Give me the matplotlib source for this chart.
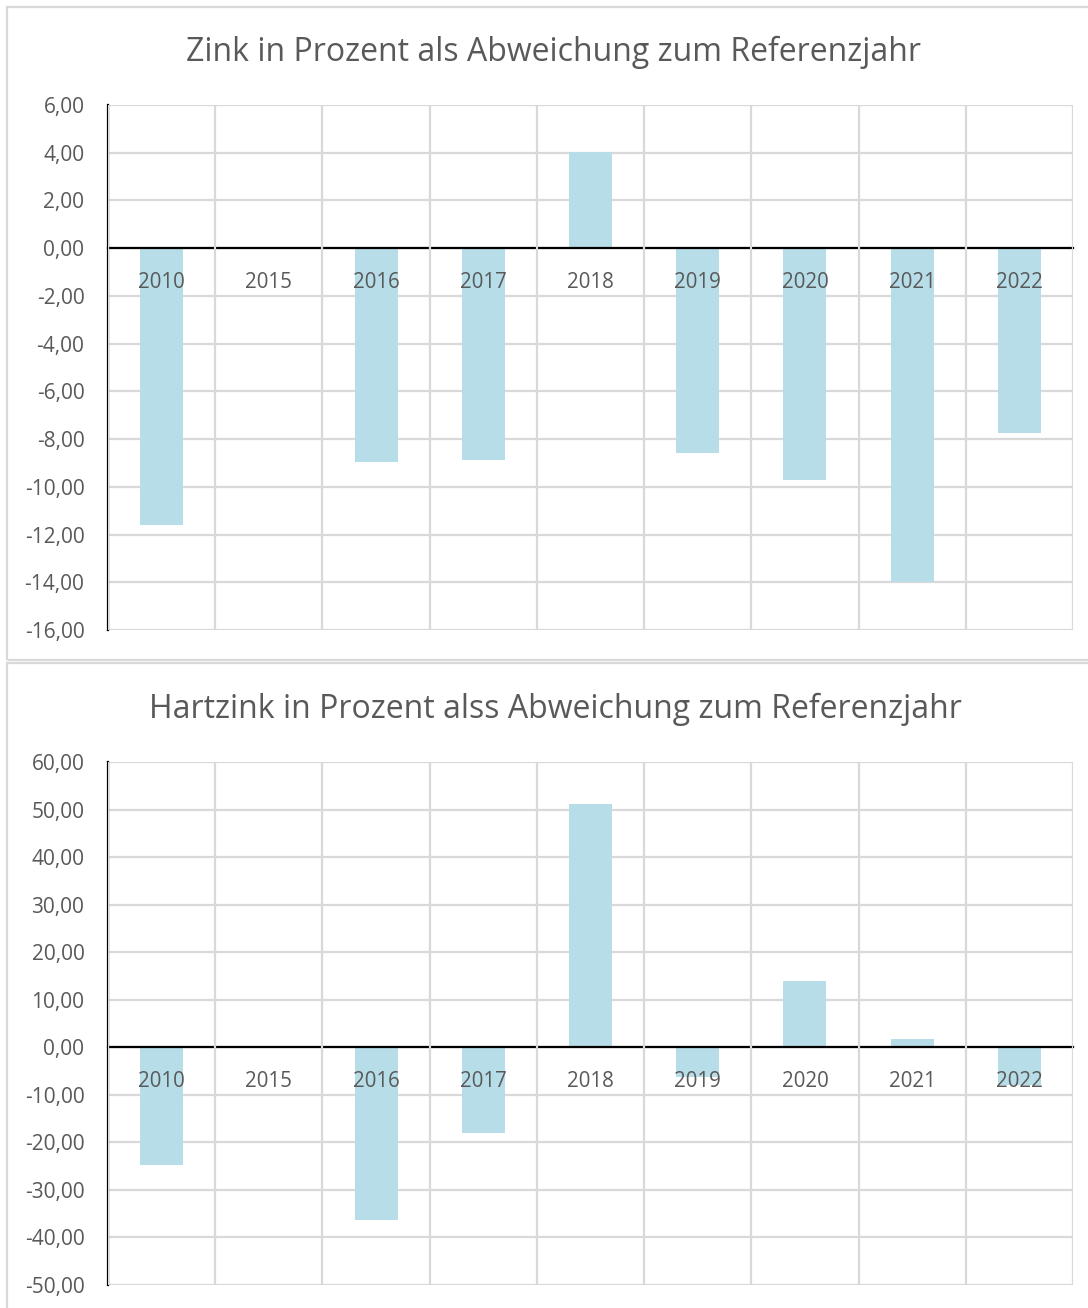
import numpy as np
import matplotlib.pyplot as plt
from matplotlib.patches import Rectangle
from matplotlib.ticker import FuncFormatter

plt.rcParams['font.family'] = ['Open Sans', 'DejaVu Sans']

jahre = ['2010', '2015', '2016', '2017', '2018', '2019', '2020', '2021', '2022']
zink = [-11.6, 0.0, -8.95, -8.88, 4.02, -8.58, -9.7, -14.0, -7.75]
hartzink = [-24.8, 0.0, -36.4, -18.1, 51.1, -6.3, 13.9, 1.7, -8.0]

titel_zink = 'Zink in Prozent als Abweichung zum Referenzjahr'
titel_hartzink = 'Hartzink in Prozent alss Abweichung zum Referenzjahr'

bar_col = '#B6DDE8'
txt_col = '#595959'
grid_col = '#D9D9D9'

fig = plt.figure(figsize=(10.88, 13.08), dpi=100)

# chart frames (Excel style)
fig.patches.append(Rectangle((7/1088, 1-660/1308), 1.1, 653/1308, transform=fig.transFigure,
                             fill=False, edgecolor=grid_col, lw=1.6))
fig.patches.append(Rectangle((7/1088, -0.1), 1.1, 0.1+1-663/1308, transform=fig.transFigure,
                             fill=False, edgecolor=grid_col, lw=1.6))

fmt = FuncFormatter(lambda v, p: f'{v:.2f}'.replace('.', ','))


def draw(ax, werte, ymin, ymax, step):
    x = np.arange(len(jahre))
    ax.bar(x, werte, width=0.4, color=bar_col, zorder=1)
    ax.set_xlim(-0.5, len(jahre) - 0.5)
    ax.set_ylim(ymin, ymax)
    ax.set_yticks(np.arange(ymin, ymax + step / 2, step))
    ax.yaxis.set_major_formatter(fmt)
    ax.set_xticks(x)
    ax.set_xticklabels(jahre)
    ax.set_xticks(np.arange(-0.5, len(jahre), 1), minor=True)
    ax.set_axisbelow(True)
    ax.grid(axis='y', which='major', color=grid_col, lw=1.6)
    ax.grid(axis='x', which='minor', color=grid_col, lw=1.6)
    ax.xaxis.set_zorder(3)
    ax.tick_params(axis='x', which='both', length=0, pad=17, labelsize=14.8, labelcolor=txt_col)
    ax.tick_params(axis='y', length=0, pad=17, labelsize=15, labelcolor=txt_col)
    for s in ['top', 'right']:
        ax.spines[s].set_visible(False)
    ax.spines['bottom'].set_position(('data', 0))
    ax.spines['bottom'].set_color('black')
    ax.spines['bottom'].set_linewidth(1.6)
    ax.spines['bottom'].set_zorder(2.5)
    ax.spines['left'].set_color('black')
    ax.spines['left'].set_linewidth(1.6)


ax1 = fig.add_axes([108/1088, 1-630/1308, 965/1088, 525/1308])
draw(ax1, zink, -16, 6, 2)
fig.text(554/1088, 1-52/1308, titel_zink, ha='center', va='center', fontsize=23, color=txt_col)

ax2 = fig.add_axes([108/1088, 1-1285/1308, 965/1088, 523/1308])
draw(ax2, hartzink, -50, 60, 10)
fig.text(555/1088, 1-709/1308, titel_hartzink, ha='center', va='center', fontsize=23, color=txt_col)

fig.savefig('out.png', dpi=100, facecolor='white')
